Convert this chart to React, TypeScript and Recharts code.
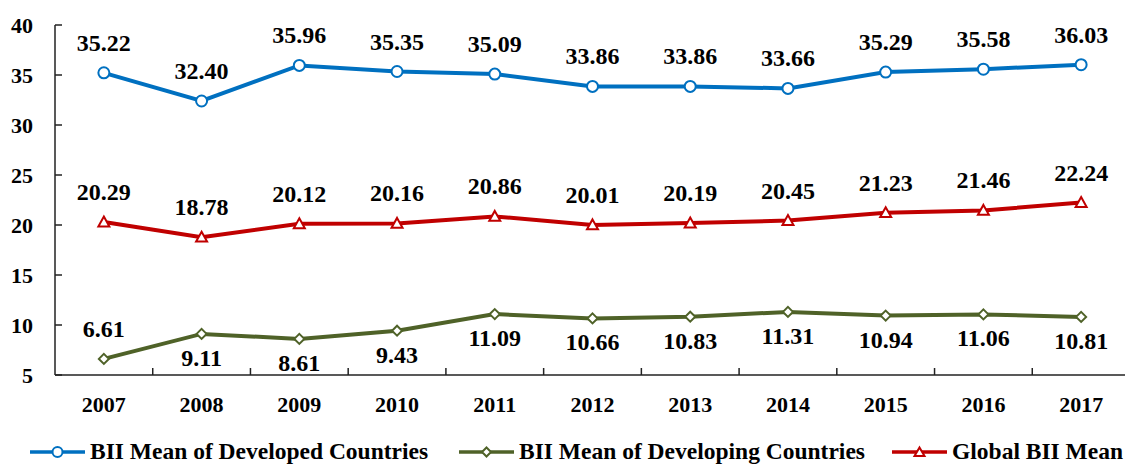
import { LineChart, Line, XAxis, YAxis, LabelList } from "recharts";

const years = ["2007", "2008", "2009", "2010", "2011", "2012", "2013", "2014", "2015", "2016", "2017"];
const developed = [35.22, 32.4, 35.96, 35.35, 35.09, 33.86, 33.86, 33.66, 35.29, 35.58, 36.03];
const developing = [6.61, 9.11, 8.61, 9.43, 11.09, 10.66, 10.83, 11.31, 10.94, 11.06, 10.81];
const globalMean = [20.29, 18.78, 20.12, 20.16, 20.86, 20.01, 20.19, 20.45, 21.23, 21.46, 22.24];
const yTicks = [5, 10, 15, 20, 25, 30, 35, 40];
const seriesNames = [
  "BII Mean of Developed Countries",
  "BII Mean of Developing Countries",
  "Global BII Mean",
];

const BLUE = "#0070C0";
const GREEN = "#4F6228";
const RED = "#C00000";
const FONT = "'Liberation Serif', 'Times New Roman', serif";

const W = 1125;
const H = 420;
const Y_AXIS_W = 47;
const MARGIN = { top: 17, right: 3, left: 0, bottom: 0 };
const BAND = (W - Y_AXIS_W - MARGIN.left - MARGIN.right) / years.length;

const data = years.map((year, i) => ({
  year,
  developed: developed[i],
  developing: developing[i],
  global: globalMean[i],
}));

function YTick(props: any) {
  const { x, y, payload } = props;
  return (
    <g>
      <line x1={x} y1={y} x2={x + 7} y2={y} stroke="#222" strokeWidth={1.5} />
      <text x={x - 22} y={y + 8} textAnchor="end" fontFamily={FONT} fontWeight="bold" fontSize={22} fill="#000">
        {payload.value}
      </text>
    </g>
  );
}

function XTick(props: any) {
  const { x, y, payload, index } = props;
  const left = x - BAND / 2;
  const right = x + BAND / 2;
  return (
    <g>
      {index > 0 && <line x1={left} y1={y} x2={left} y2={y - 7} stroke="#222" strokeWidth={1.5} />}
      {index === years.length - 1 && (
        <line x1={right} y1={y} x2={right} y2={y - 7} stroke="#222" strokeWidth={1.5} />
      )}
      <text x={x} y={y + 37} textAnchor="middle" fontFamily={FONT} fontWeight="bold" fontSize={22} fill="#000">
        {payload.value}
      </text>
    </g>
  );
}

function Circle(props: any) {
  const { cx, cy } = props;
  return <circle cx={cx} cy={cy} r={5.5} fill="#fff" stroke={BLUE} strokeWidth={2} />;
}

function Diamond(props: any) {
  const { cx, cy } = props;
  const s = 5;
  return (
    <path
      d={`M${cx},${cy - s}L${cx + s},${cy}L${cx},${cy + s}L${cx - s},${cy}Z`}
      fill="#fff"
      stroke={GREEN}
      strokeWidth={2}
    />
  );
}

function Triangle(props: any) {
  const { cx, cy } = props;
  const s = 5.5;
  return (
    <path
      d={`M${cx},${cy - s}L${cx + s},${cy + s * 0.8}L${cx - s},${cy + s * 0.8}Z`}
      fill="#fff"
      stroke={RED}
      strokeWidth={2}
    />
  );
}

function makeLabel(below: (i: number) => boolean) {
  return (props: any) => {
    const { x, y, value, index } = props;
    const dy = below(index) ? 32 : -22;
    return (
      <text x={x} y={y + dy} textAnchor="middle" fontFamily={FONT} fontWeight="bold" fontSize={24} fill="#000">
        {Number(value).toFixed(2)}
      </text>
    );
  };
}

function LegendIcon({ color, kind }: { color: string; kind: string }) {
  return (
    <svg width={55} height={14} style={{ display: "block" }}>
      <line x1={0} y1={7} x2={55} y2={7} stroke={color} strokeWidth={3.5} />
      {kind === "circle" && <circle cx={27.5} cy={7} r={5} fill="#fff" stroke={color} strokeWidth={2} />}
      {kind === "diamond" && <path d="M27.5,2.5L32,7L27.5,11.5L23,7Z" fill="#fff" stroke={color} strokeWidth={2} />}
      {kind === "triangle" && <path d="M27.5,2.5L32.5,11L22.5,11Z" fill="#fff" stroke={color} strokeWidth={2} />}
    </svg>
  );
}

const legendItems = [
  { name: seriesNames[0], color: BLUE, kind: "circle", left: 22 },
  { name: seriesNames[1], color: GREEN, kind: "diamond", left: 451 },
  { name: seriesNames[2], color: RED, kind: "triangle", left: 884 },
];

export default function App() {
  return (
    <div style={{ width: W, background: "#fff" }}>
      <style>{"body{overflow:hidden}"}</style>
      <LineChart width={W} height={H} data={data} margin={MARGIN}>
        <XAxis
          dataKey="year"
          height={H - MARGIN.top - 350}
          padding={{ left: BAND / 2, right: BAND / 2 }}
          axisLine={{ stroke: "#222", strokeWidth: 1.5 }}
          tickLine={false}
          tickSize={0}
          tickMargin={0}
          interval={0}
          tick={<XTick />}
        />
        <YAxis
          width={Y_AXIS_W}
          domain={[5, 40]}
          ticks={yTicks}
          axisLine={{ stroke: "#222", strokeWidth: 1.5 }}
          tickLine={false}
          tickSize={0}
          tickMargin={0}
          tick={<YTick />}
        />
        <Line
          dataKey="developed"
          name={seriesNames[0]}
          stroke={BLUE}
          strokeWidth={4}
          dot={<Circle />}
          isAnimationActive={false}
        >
          <LabelList dataKey="developed" content={makeLabel(() => false)} />
        </Line>
        <Line
          dataKey="global"
          name={seriesNames[2]}
          stroke={RED}
          strokeWidth={4}
          dot={<Triangle />}
          isAnimationActive={false}
        >
          <LabelList dataKey="global" content={makeLabel(() => false)} />
        </Line>
        <Line
          dataKey="developing"
          name={seriesNames[1]}
          stroke={GREEN}
          strokeWidth={4}
          dot={<Diamond />}
          isAnimationActive={false}
        >
          <LabelList dataKey="developing" content={makeLabel((i) => i > 0)} />
        </Line>
      </LineChart>
      <div style={{ position: "relative", height: 36 }}>
        {legendItems.map((item) => (
          <div
            key={item.name}
            style={{
              position: "absolute",
              left: item.left,
              top: 11,
              display: "flex",
              alignItems: "center",
              gap: 5,
              fontFamily: FONT,
              fontWeight: "bold",
              fontSize: 23.5,
              whiteSpace: "nowrap",
              lineHeight: "25px",
            }}
          >
            <LegendIcon color={item.color} kind={item.kind} />
            <span>{item.name}</span>
          </div>
        ))}
      </div>
    </div>
  );
}
